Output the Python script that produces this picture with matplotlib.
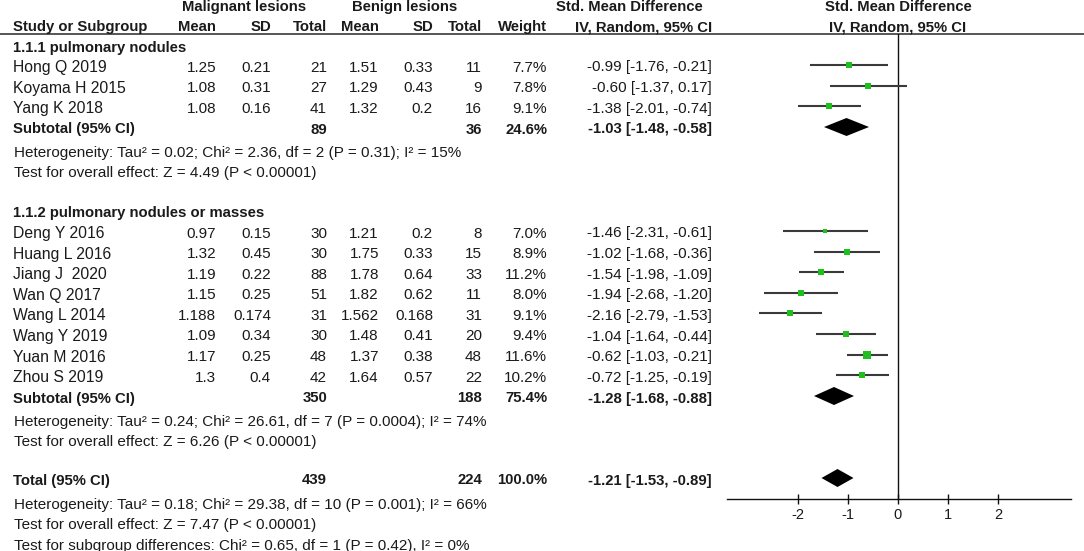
import matplotlib
matplotlib.use("Agg")
import matplotlib.pyplot as plt

# ---------------- data ----------------
g1_studies = ["Hong Q 2019", "Koyama H 2015", "Yang K 2018"]
g1_mal_mean = [1.25, 1.08, 1.08]
g1_mal_sd = [0.21, 0.31, 0.16]
g1_mal_n = [21, 27, 41]
g1_ben_mean = [1.51, 1.29, 1.32]
g1_ben_sd = [0.33, 0.43, 0.2]
g1_ben_n = [11, 9, 16]
g1_weight = [7.7, 7.8, 9.1]
g1_smd = [-0.99, -0.60, -1.38]
g1_lo = [-1.76, -1.37, -2.01]
g1_hi = [-0.21, 0.17, -0.74]
g1_sub = dict(mal_n=89, ben_n=36, weight=24.6, smd=-1.03, lo=-1.48, hi=-0.58)
g1_het = "Heterogeneity: Tau² = 0.02; Chi² = 2.36, df = 2 (P = 0.31); I² = 15%"
g1_test = "Test for overall effect: Z = 4.49 (P < 0.00001)"

g2_studies = ["Deng Y 2016", "Huang L 2016", "Jiang J  2020", "Wan Q 2017",
              "Wang L 2014", "Wang Y 2019", "Yuan M 2016", "Zhou S 2019"]
g2_mal_mean = [0.97, 1.32, 1.19, 1.15, 1.188, 1.09, 1.17, 1.3]
g2_mal_sd = [0.15, 0.45, 0.22, 0.25, 0.174, 0.34, 0.25, 0.4]
g2_mal_n = [30, 30, 88, 51, 31, 30, 48, 42]
g2_ben_mean = [1.21, 1.75, 1.78, 1.82, 1.562, 1.48, 1.37, 1.64]
g2_ben_sd = [0.2, 0.33, 0.64, 0.62, 0.168, 0.41, 0.38, 0.57]
g2_ben_n = [8, 15, 33, 11, 31, 20, 48, 22]
g2_weight = [7.0, 8.9, 11.2, 8.0, 9.1, 9.4, 11.6, 10.2]
g2_smd = [-1.46, -1.02, -1.54, -1.94, -2.16, -1.04, -0.62, -0.72]
g2_lo = [-2.31, -1.68, -1.98, -2.68, -2.79, -1.64, -1.03, -1.25]
g2_hi = [-0.61, -0.36, -1.09, -1.20, -1.53, -0.44, -0.21, -0.19]
g2_sub = dict(mal_n=350, ben_n=188, weight=75.4, smd=-1.28, lo=-1.68, hi=-0.88)
g2_het = "Heterogeneity: Tau² = 0.24; Chi² = 26.61, df = 7 (P = 0.0004); I² = 74%"
g2_test = "Test for overall effect: Z = 6.26 (P < 0.00001)"

total = dict(mal_n=439, ben_n=224, weight=100.0, smd=-1.21, lo=-1.53, hi=-0.89)
tot_het = "Heterogeneity: Tau² = 0.18; Chi² = 29.38, df = 10 (P = 0.001); I² = 66%"
tot_test = "Test for overall effect: Z = 7.47 (P < 0.00001)"
tot_sub = "Test for subgroup differences: Chi² = 0.65, df = 1 (P = 0.42), I² = 0%"

x_ticks = [-2, -1, 0, 1, 2]

# ---------------- layout ----------------
W, H = 1084, 551
FONT = "Liberation Sans"
FS = 11
FSB = 10.7
FSH = 11
TXT = "#1a1a1a"
GREEN = "#1fbf1f"
LINE = "#3a3a3a"

fig = plt.figure(figsize=(W / 100, H / 100), dpi=100)
ax_t = fig.add_axes([0, 0, 1, 1])
ax_t.set_xlim(0, W)
ax_t.set_ylim(H, 0)
ax_t.axis("off")

X_STUDY = 13
X_MMEAN, X_MSD, X_MN = 216, 271, 327
X_BMEAN, X_BSD, X_BN = 379, 433, 482
X_W, X_CI = 547, 712

AX_L, AX_R, AX_Y, AX_TOP = 727, 1071, 499, 34
XMIN, XMAX = -3.42, 3.46

ax_f = fig.add_axes([AX_L / W, (H - AX_Y) / H, (AX_R - AX_L) / W, (AX_Y - AX_TOP) / H])
ax_f.set_xlim(XMIN, XMAX)
ax_f.set_ylim(AX_Y, AX_TOP)
ax_f.patch.set_alpha(0)
for s in ["top", "left", "right"]:
    ax_f.spines[s].set_visible(False)
ax_f.spines["bottom"].set_linewidth(1.0)
ax_f.spines["bottom"].set_color("#111111")
ax_f.set_yticks([])
ax_f.set_xticks(x_ticks)
ax_f.set_xticklabels([str(t) for t in x_ticks], fontfamily=FONT, fontsize=10.5, color=TXT)
ax_f.tick_params(axis="x", direction="inout", length=6.5, width=1.0, pad=3, colors="#111111")
for lab in ax_f.get_xticklabels():
    lab.set_color(TXT)
ax_f.axvline(0, color="#111111", lw=1.0)


def t(x, y, s, ha="left", bold=False, size=None):
    ax_t.text(x, y, s, ha=ha, va="center", fontfamily=FONT,
              fontsize=size if size else (FSB if bold else FS),
              fontweight="bold" if bold else "normal", color=TXT)


# headers
t(244, 7, "Malignant lesions", ha="center", bold=True)
t(405, 7, "Benign lesions", ha="center", bold=True)
t(629, 7, "Std. Mean Difference", ha="center", bold=True)
t(898, 7, "Std. Mean Difference", ha="center", bold=True)
t(X_STUDY, 27, "Study or Subgroup", bold=True)
for x, s in [(X_MMEAN, "Mean"), (X_MSD, "SD"), (X_MN, "Total"), (X_BMEAN, "Mean"),
             (X_BSD, "SD"), (X_BN, "Total"), (X_W, "Weight"), (X_CI, "IV, Random, 95% CI")]:
    t(x, 27, s, ha="right", bold=True)
t(898, 27, "IV, Random, 95% CI", ha="center", bold=True)
ax_t.plot([0, W], [AX_TOP, AX_TOP], color=LINE, lw=1.2)

OFF = 2.5  # text sits slightly below marker row


def study_rows(y0, names, mm, msd, mn, bm, bsd, bn, w, smd, lo, hi):
    step = 20.6
    for i in range(len(names)):
        y = y0 + i * step
        ty = y + OFF
        t(X_STUDY, ty, names[i], size=11.3)
        t(X_MMEAN, ty, str(mm[i]), ha="right")
        t(X_MSD, ty, str(msd[i]), ha="right")
        t(X_MN, ty, str(mn[i]), ha="right")
        t(X_BMEAN, ty, str(bm[i]), ha="right")
        t(X_BSD, ty, str(bsd[i]), ha="right")
        t(X_BN, ty, str(bn[i]), ha="right")
        t(X_W, ty, f"{w[i]:.1f}%", ha="right")
        t(X_CI, ty, f"{smd[i]:.2f} [{lo[i]:.2f}, {hi[i]:.2f}]", ha="right")
        ax_f.plot([lo[i], hi[i]], [y, y], color=LINE, lw=1.5, solid_capstyle="butt", zorder=2)
        side_px = 0.45 * w[i] + 1.8
        ax_f.plot([smd[i]], [y], marker="s", ms=side_px * 0.72, color=GREEN, mec=GREEN,
                  mew=0, zorder=3, snap=False)


def summary_row(y, label, d):
    ty = y + OFF
    t(X_STUDY, ty, label, bold=True)
    t(X_MN, ty, str(d["mal_n"]), ha="right", bold=True)
    t(X_BN, ty, str(d["ben_n"]), ha="right", bold=True)
    t(X_W, ty, f"{d['weight']:.1f}%", ha="right", bold=True)
    t(X_CI, ty, f"{d['smd']:.2f} [{d['lo']:.2f}, {d['hi']:.2f}]", ha="right", bold=True)
    hh = 9
    ax_f.fill([d["lo"], d["smd"], d["hi"], d["smd"]], [y, y - hh, y, y + hh],
              color="black", lw=0, zorder=3)


# group 1
t(X_STUDY, 48, "1.1.1 pulmonary nodules", bold=True)
study_rows(65, g1_studies, g1_mal_mean, g1_mal_sd, g1_mal_n, g1_ben_mean, g1_ben_sd,
           g1_ben_n, g1_weight, g1_smd, g1_lo, g1_hi)
summary_row(127, "Subtotal (95% CI)", g1_sub)
t(14, 153, g1_het, size=FSH)
t(14, 173, g1_test, size=FSH)

# group 2
t(X_STUDY, 213, "1.1.2 pulmonary nodules or masses", bold=True)
study_rows(231, g2_studies, g2_mal_mean, g2_mal_sd, g2_mal_n, g2_ben_mean, g2_ben_sd,
           g2_ben_n, g2_weight, g2_smd, g2_lo, g2_hi)
summary_row(396, "Subtotal (95% CI)", g2_sub)
t(14, 422, g2_het, size=FSH)
t(14, 442, g2_test, size=FSH)

# total
summary_row(478, "Total (95% CI)", total)
t(14, 505, tot_het, size=FSH)
t(14, 525, tot_test, size=FSH)
t(14, 546, tot_sub, size=FSH)

fig.savefig("out.png", dpi=100)
